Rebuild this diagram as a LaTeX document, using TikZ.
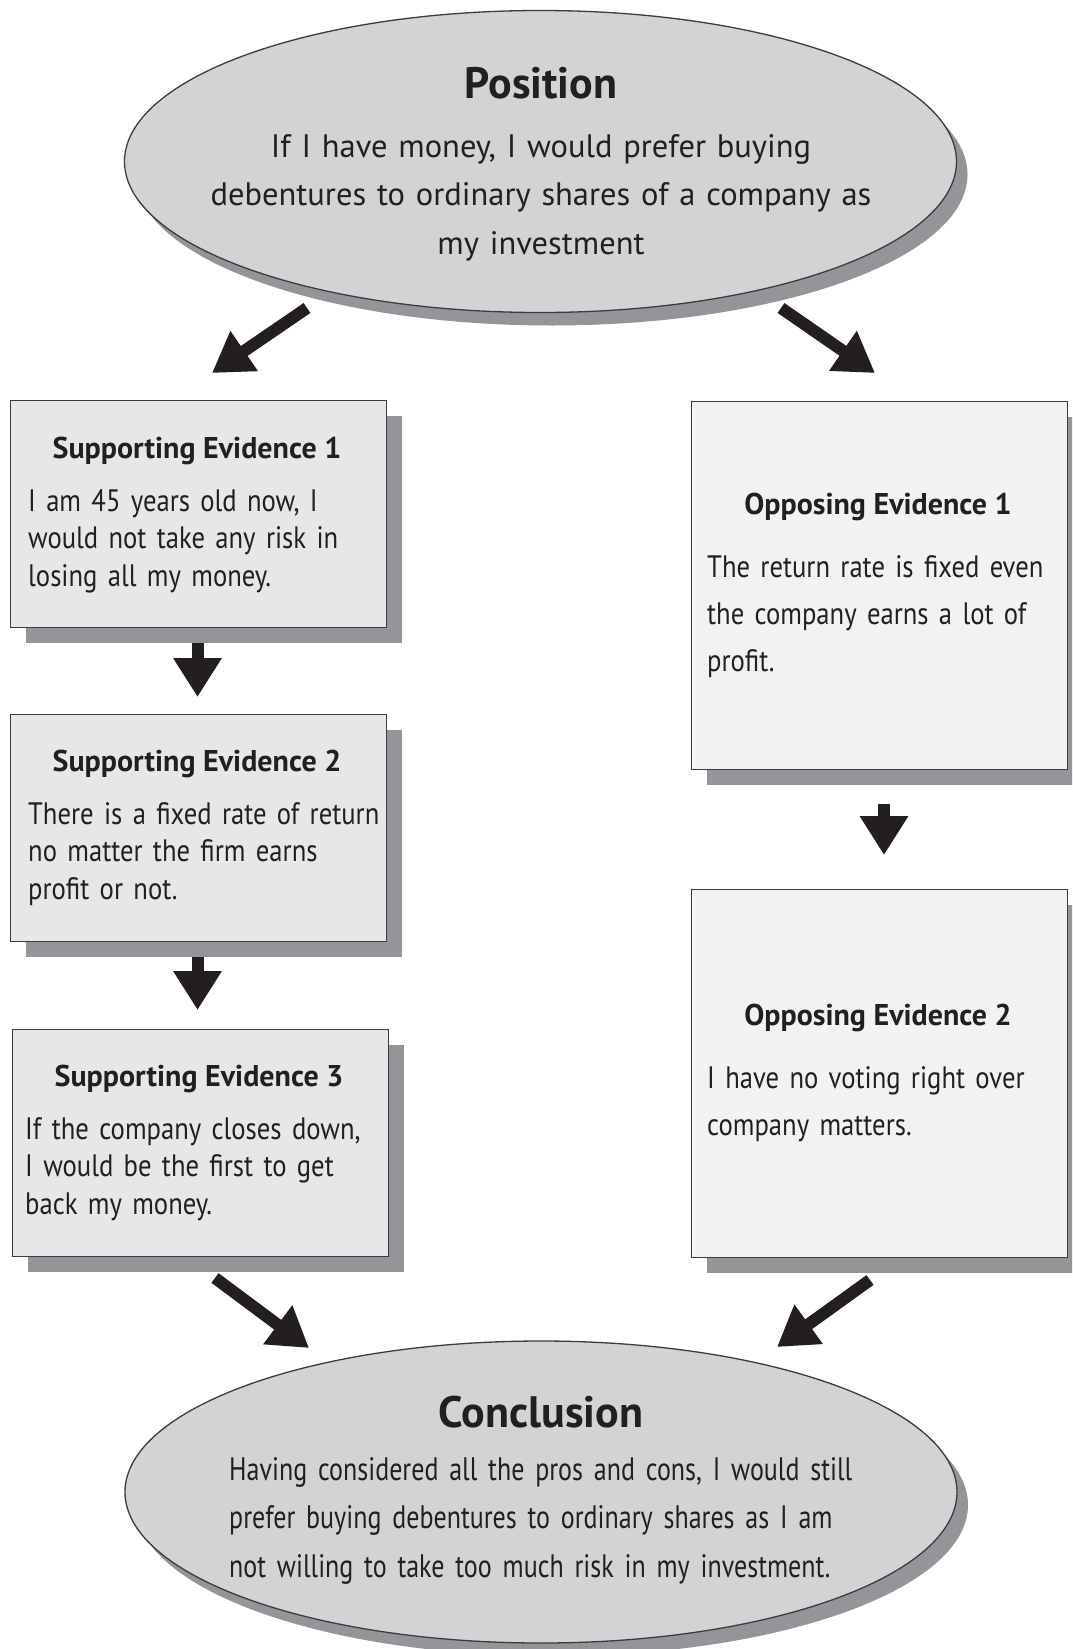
\documentclass[tikz,border=0pt]{standalone}
\usepackage{fontspec}
\setmainfont{PT Sans}
\newfontfamily\narrowfont[FakeStretch=0.86]{PT Sans}
\newfontfamily\condfont[FakeStretch=0.80]{PT Sans}
\usetikzlibrary{shapes.geometric,arrows.meta,shadows}
\definecolor{ink}{HTML}{231F20}
\definecolor{edge}{HTML}{3C3C3C}
\definecolor{ovalfill}{HTML}{D1D3D4}
\definecolor{supfill}{HTML}{E6E7E8}
\definecolor{oppfill}{HTML}{F1F2F2}
\definecolor{shade}{HTML}{939598}
\hyphenpenalty=10000

\begin{document}
\begin{tikzpicture}[x=1pt,y=-1pt,
  oval/.style={ellipse, draw=edge, line width=1.3pt, fill=ovalfill,
    minimum width=832pt, minimum height=302pt, inner sep=0pt,
    drop shadow={shadow xshift=11pt, shadow yshift=-13pt, fill=shade, opacity=1}},
  card/.style={rectangle, draw=edge, line width=1.3pt, anchor=north west, inner sep=0pt,
    drop shadow={shadow xshift=15pt, shadow yshift=-15pt, fill=shade, opacity=1}},
  supcard/.style={card, fill=supfill, minimum width=376pt, minimum height=227pt},
  oppcard/.style={card, fill=oppfill, minimum width=376pt, minimum height=368pt},
  ovaltitle/.style={anchor=base, inner sep=0pt, text=ink, font=\bfseries\fontsize{44}{48}\selectfont},
  ovaltext/.style={inner sep=0pt, text=ink, font=\fontsize{32.5}{48.5}\selectfont},
  cardtitle/.style={anchor=base, inner sep=0pt, text=ink, font=\bfseries\fontsize{30}{34}\selectfont},
  suptext/.style={anchor=base west, inner sep=0pt, text=ink, text width=420pt, align=left,
    font=\narrowfont\fontsize{31}{37.5}\selectfont},
  opptext/.style={anchor=base west, inner sep=0pt, text=ink, text width=420pt, align=left,
    font=\narrowfont\fontsize{31}{47}\selectfont},
  blockarrow/.style={draw=ink, line width=12pt, -{Triangle[length=39pt,width=46pt]}, ink}
]
\useasboundingbox (0,0) rectangle (1072,1649);
\clip (0,0) rectangle (1072,1649);
\fill[white] (0,0) rectangle (1072,1649);

% Position oval
\node[oval] (pos) at (540.5,161.5) {};
\node[ovaltitle] (postitle) at (541,98) {Position};
\node[ovaltext, anchor=base, text width=760pt, align=center] (postext) at (541,157)
  {If I have money, I would prefer buying\\
   debentures to ordinary shares of a company as\\
   my investment};

% Supporting evidence column
\node[supcard] (se1) at (10,400) {};
\node[cardtitle] (se1t) at (197,458) {Supporting Evidence 1};
\node[suptext] (se1b) at (28,511)
  {I am 45 years old now, I\\ would not take any risk in\\ losing all my money.};

\node[supcard] (se2) at (10,714) {};
\node[cardtitle] (se2t) at (197,771) {Supporting Evidence 2};
\node[suptext] (se2b) at (28,824)
  {There is a fixed rate of return\\ no matter the firm earns\\ profit or not.};

\node[supcard] (se3) at (12,1029) {};
\node[cardtitle] (se3t) at (199,1086) {Supporting Evidence 3};
\node[suptext] (se3b) at (25,1139)
  {If the company closes down,\\ I would be the first to get\\ back my money.};

% Opposing evidence column
\node[oppcard] (oe1) at (691,401) {};
\node[cardtitle] (oe1t) at (878,514) {Opposing Evidence 1};
\node[opptext] (oe1b) at (707,577)
  {The return rate is fixed even\\ the company earns a lot of\\ profit.};

\node[oppcard] (oe2) at (691,889) {};
\node[cardtitle] (oe2t) at (878,1025) {Opposing Evidence 2};
\node[opptext] (oe2b) at (707,1088)
  {I have no voting right over\\ company matters.};

% Conclusion oval
\node[oval] (con) at (541,1492) {};
\node[ovaltitle] (contitle) at (541,1427) {Conclusion};
\node[ovaltext, font=\condfont\fontsize{32.5}{48.5}\selectfont, anchor=base west,
  text width=760pt, align=left] (context) at (229,1480)
  {Having considered all the pros and cons, I would still\\
   prefer buying debentures to ordinary shares as I am\\
   not willing to take too much risk in my investment.};

% Arrow end points
\coordinate (a1s) at (307,308);  \coordinate (a1e) at (212,373);
\coordinate (a2s) at (781,308);  \coordinate (a2e) at (875,373);
\coordinate (a3s) at (197.5,643); \coordinate (a3e) at (197.5,697);
\coordinate (a4s) at (197.5,957); \coordinate (a4e) at (197.5,1010);
\coordinate (a5s) at (884,804);  \coordinate (a5e) at (884,855);
\coordinate (a6s) at (215,1278); \coordinate (a6e) at (309,1348);
\coordinate (a7s) at (870,1280); \coordinate (a7e) at (777,1347);

\draw[blockarrow] (a1s) -- (a1e);
\draw[blockarrow] (a2s) -- (a2e);
\draw[blockarrow] (a3s) -- (a3e);
\draw[blockarrow] (a4s) -- (a4e);
\draw[blockarrow] (a5s) -- (a5e);
\draw[blockarrow] (a6s) -- (a6e);
\draw[blockarrow] (a7s) -- (a7e);
\end{tikzpicture}
\end{document}
